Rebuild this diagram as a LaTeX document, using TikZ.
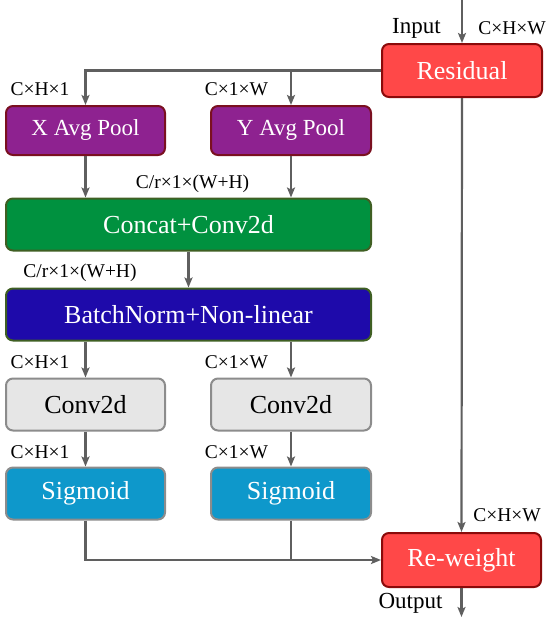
\documentclass[tikz,border=0pt]{standalone}
\usepackage{fontspec}
\setmainfont{Liberation Serif}
\usetikzlibrary{arrows.meta}

\definecolor{resred}{HTML}{FF4848}
\definecolor{resedge}{HTML}{8B0A0A}
\definecolor{poolfill}{HTML}{8E2290}
\definecolor{pooledge}{HTML}{7A1020}
\definecolor{catfill}{HTML}{00913F}
\definecolor{catedge}{HTML}{3F5F23}
\definecolor{bnfill}{HTML}{1E0AAA}
\definecolor{convfill}{HTML}{E6E6E6}
\definecolor{grayedge}{HTML}{8C8C8C}
\definecolor{sigfill}{HTML}{0E98CB}
\definecolor{wire}{HTML}{5F5F5F}

\begin{document}
\begin{tikzpicture}[
    x=1pt, y=-1pt,
    >={Stealth[length=10pt, width=8pt, inset=2pt]},
    line/.style  = {draw=wire, line width=2.2pt},
    block/.style = {draw, line width=2pt, rounded corners=7pt, inner sep=0pt,
                    text=white, font=\fontsize{26}{30}\selectfont},
    dim/.style   = {font=\fontsize{19.5}{22}\selectfont, inner sep=0pt},
    io/.style    = {font=\fontsize{23}{26}\selectfont, inner sep=0pt}
]
\useasboundingbox (0,0) rectangle (550,624);

% Residual branch and outer weighting
\node[block, fill=resred, draw=resedge, minimum width=160pt, minimum height=53pt]
    (res) at (462, 70.5) {Residual};
\node[block, fill=resred, draw=resedge, minimum width=159pt, minimum height=54pt]
    (rew) at (461.5, 560) {Re-weight};

% Directional pooling
\node[block, fill=poolfill, draw=pooledge, minimum width=159pt, minimum height=49pt,
      font=\fontsize{23}{26}\selectfont] (xpool) at (85.5, 130.5) {X Avg Pool};
\node[block, fill=poolfill, draw=pooledge, minimum width=160pt, minimum height=49pt,
      font=\fontsize{23}{26}\selectfont] (ypool) at (291, 130.5) {Y Avg Pool};

% Shared transform
\node[block, fill=catfill, draw=catedge, minimum width=365pt, minimum height=52pt]
    (cat) at (188.5, 224.5) {Concat+Conv2d};
\node[block, fill=bnfill, draw=catedge, minimum width=365pt, minimum height=52pt]
    (bn) at (188.5, 314.5) {BatchNorm+Non-linear};

% Split heads
\foreach \n/\x/\w in {x/85.5/159, y/291/160} {
    \node[block, fill=convfill, draw=grayedge, text=black, minimum width=\w pt,
          minimum height=52pt] (conv\n) at (\x, 404.5) {Conv2d};
    \node[block, fill=sigfill, draw=grayedge, minimum width=\w pt,
          minimum height=52pt] (sig\n) at (\x, 493.5) {Sigmoid};
}

% Connectors
\coordinate (in)  at (462, 0);
\coordinate (out) at (461.5, 617);
\draw[->, line] (in) -- (res.north);
\draw[->, line] (res.west) -| (xpool.north);
\draw[->, line] (ypool.north |- res.west) -- (ypool.north);
\foreach \b in {xpool, ypool}
    \draw[->, line] (\b.south) -- (\b.south |- cat.north);
\draw[->, line] (cat.south) -- (bn.north);
\foreach \n in {x, y} {
    \draw[->, line] (conv\n.north |- bn.south) -- (conv\n.north);
    \draw[->, line] (conv\n.south) -- (sig\n.north);
}
\draw[->, line] (sigx.south) |- (rew.west);
\draw[line] (sigy.south) -- (sigy.south |- rew.west);
\draw[->, line] (res.south) -- (rew.north);
\draw[->, line] (rew.south) -- (out);

% Tensor shapes
\node[io]  (inlab)  at (416.5, 28)  {Input};
\node[dim] (dimin)  at (512, 28)    {C×H×W};
\node[dim] (dimx1)  at (40, 89)     {C×H×1};
\node[dim] (dimy1)  at (236.5, 89)  {C×1×W};
\node[dim] (dimcat) at (192.5, 184) {C/r×1×(W+H)};
\node[dim] (dimbn)  at (80, 273)    {C/r×1×(W+H)};
\node[dim] (dimx2)  at (40, 362)    {C×H×1};
\node[dim] (dimy2)  at (236.5, 362) {C×1×W};
\node[dim] (dimx3)  at (40, 452)    {C×H×1};
\node[dim] (dimy3)  at (236.5, 452) {C×1×W};
\node[dim] (dimres) at (507, 515)   {C×H×W};
\node[io]  (outlab) at (410.5, 603) {Output};

\end{tikzpicture}
\end{document}
